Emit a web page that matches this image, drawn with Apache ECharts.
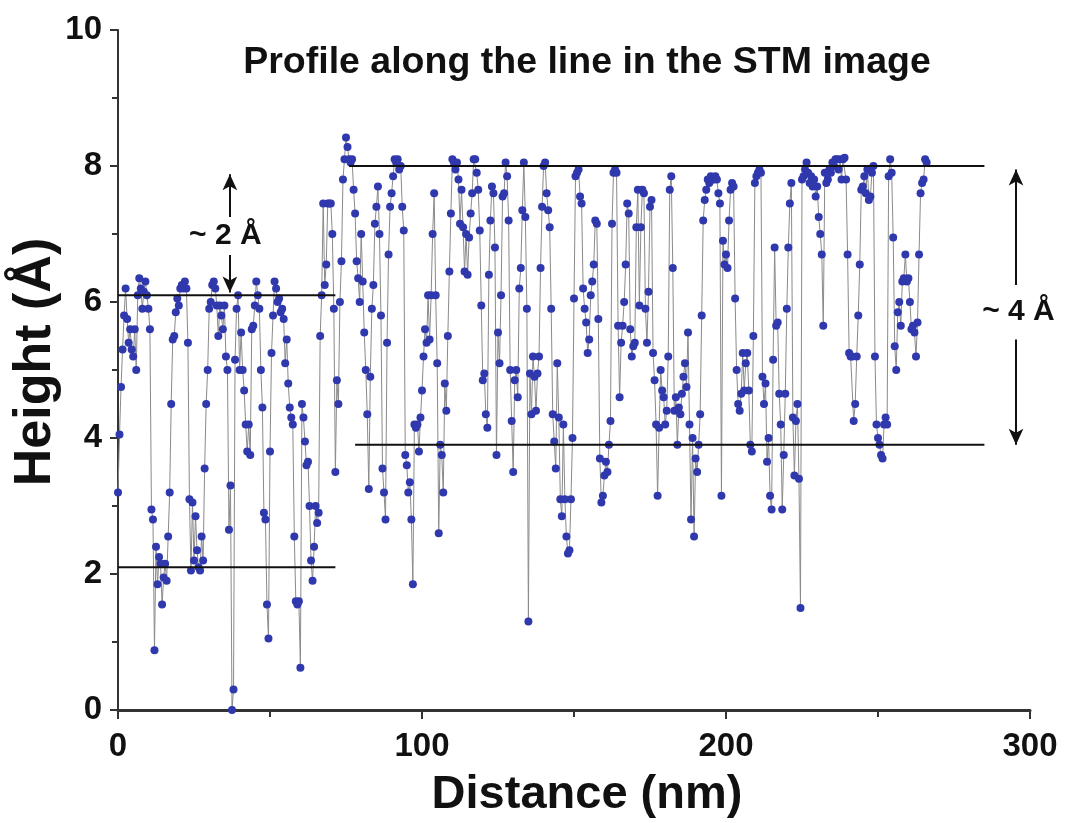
<!DOCTYPE html>
<html><head><meta charset="utf-8">
<script src="https://cdn.jsdelivr.net/npm/echarts@6/dist/echarts.min.js"></script>
<style>html,body{margin:0;padding:0;background:#fff}#c{width:1066px;height:823px}</style>
</head><body><div id="c"></div>
<script>
// Distance (nm) of each sample along the STM line profile
const distance = [
0,0.5,1,1.5,2,2.5,3,3.5,4,4.5,5,5.5,6,6.5,7,7.5,8,8.5,9,9.5,
10,10.5,11,11.5,12,12.5,13,13.5,14,14.5,15,15.5,16,16.5,17,17.5,18,18.5,19,19.5,
20,20.5,21,21.5,22,22.5,23,23.5,24,24.5,25,25.5,26,26.5,27,27.5,28,28.5,29,29.5,
30,30.5,31,31.5,32,32.5,33,33.5,34,34.5,35,35.5,36,36.5,37,37.5,38,38.5,39,39.5,
40,40.5,41,41.5,42,42.5,43,43.5,44,44.5,45,45.5,46,46.5,47,47.5,48,48.5,49,49.5,
50,50.5,51,51.5,52,52.5,53,53.5,54,54.5,55,55.5,56,56.5,57,57.5,58,58.5,59,59.5,
60,60.5,61,61.5,62,62.5,63,63.5,64,64.5,65,65.5,66,66.5,67,67.5,68,68.5,69,69.5,
70,70.5,71,71.5,72,72.5,73,73.5,74,74.5,75,75.5,76,76.5,77,77.5,78,78.5,79,79.5,
80,80.5,81,81.5,82,82.5,83,83.5,84,84.5,85,85.5,86,86.5,87,87.5,88,88.5,89,89.5,
90,90.5,91,91.5,92,92.5,93,93.5,94,94.5,95,95.5,96,96.5,97,97.5,98,98.5,99,99.5,
100,100.5,101,101.5,102,102.5,103,103.5,104,104.5,105,105.5,106,106.5,107,107.5,108,108.5,109,109.5,
110,110.5,111,111.5,112,112.5,113,113.5,114,114.5,115,115.5,116,116.5,117,117.5,118,118.5,119,119.5,
120,120.5,121,121.5,122,122.5,123,123.5,124,124.5,125,125.5,126,126.5,127,127.5,128,128.5,129,129.5,
130,130.5,131,131.5,132,132.5,133,133.5,134,134.5,135,135.5,136,136.5,137,137.5,138,138.5,139,139.5,
140,140.5,141,141.5,142,142.5,143,143.5,144,144.5,145,145.5,146,146.5,147,147.5,148,148.5,149,149.5,
150,150.5,151,151.5,152,152.5,153,153.5,154,154.5,155,155.5,156,156.5,157,157.5,158,158.5,159,159.5,
160,160.5,161,161.5,162,162.5,163,163.5,164,164.5,165,165.5,166,166.5,167,167.5,168,168.5,169,169.5,
170,170.5,171,171.5,172,172.5,173,173.5,174,174.5,175,175.5,176,176.5,177,177.5,178,178.5,179,179.5,
180,180.5,181,181.5,182,182.5,183,183.5,184,184.5,185,185.5,186,186.5,187,187.5,188,188.5,189,189.5,
190,190.5,191,191.5,192,192.5,193,193.5,194,194.5,195,195.5,196,196.5,197,197.5,198,198.5,199,199.5,
200,200.5,201,201.5,202,202.5,203,203.5,204,204.5,205,205.5,206,206.5,207,207.5,208,208.5,209,209.5,
210,210.5,211,211.5,212,212.5,213,213.5,214,214.5,215,215.5,216,216.5,217,217.5,218,218.5,219,219.5,
220,220.5,221,221.5,222,222.5,223,223.5,224,224.5,225,225.5,226,226.5,227,227.5,228,228.5,229,229.5,
230,230.5,231,231.5,232,232.5,233,233.5,234,234.5,235,235.5,236,236.5,237,237.5,238,238.5,239,239.5,
240,240.5,241,241.5,242,242.5,243,243.5,244,244.5,245,245.5,246,246.5,247,247.5,248,248.5,249,249.5,
250,250.5,251,251.5,252,252.5,253,253.5,254,254.5,255,255.5,256,256.5,257,257.5,258,258.5,259,259.5,
260,260.5,261,261.5,262,262.5,263,263.5,264,264.5,265,265.5,266
];
// Height (Å)
const height = [
3.2,4.05,4.75,5.3,5.8,6.2,5.75,5.4,5.6,5.3,5.2,5.6,5.0,6.1,6.35,6.2,5.9,6.15,6.3,6.1,
5.9,5.6,2.95,2.8,0.88,2.4,1.85,2.25,2.15,1.55,1.95,2.15,1.9,2.55,3.2,4.5,5.45,5.5,5.85,6.05,
5.95,6.2,6.25,6.2,6.3,6.2,5.4,3.1,2.05,3.05,2.2,2.85,2.35,2.1,2.05,2.55,2.2,3.55,4.5,5.0,
5.9,6.0,6.25,6.3,6.2,5.95,5.5,5.95,5.8,5.6,5.95,5.2,5.0,2.65,3.3,0.0,0.3,5.15,5.9,6.1,
5.0,5.55,5.0,4.7,4.2,3.8,4.2,3.75,5.6,5.65,5.95,6.3,6.1,5.9,5.0,4.45,2.9,2.8,1.55,1.05,
3.8,5.25,5.8,6.3,6.2,6.0,6.05,5.85,5.9,5.75,5.1,5.45,4.8,4.45,4.3,4.2,2.55,1.6,1.55,1.6,
0.62,4.5,4.3,3.95,3.6,3.65,3.0,2.2,1.9,2.4,3.0,2.75,2.9,5.5,6.1,7.45,6.25,6.55,7.45,7.45,
7.45,7.0,5.9,3.5,4.85,4.5,6.0,6.6,7.8,8.1,8.42,8.28,8.1,8.05,8.1,7.65,7.3,6.6,6.35,6.0,
7.0,6.3,5.55,5.0,4.35,3.25,4.9,5.9,6.25,7.15,7.4,7.7,7.0,5.8,3.55,3.2,2.8,5.4,6.7,7.4,
7.6,7.85,8.1,8.05,8.1,7.95,8.0,7.4,7.05,3.75,3.6,3.2,3.35,2.8,1.85,4.2,4.15,4.2,3.8,4.3,
4.7,5.2,5.6,5.4,6.1,5.45,6.1,7.0,7.6,6.1,5.1,2.6,3.9,3.75,3.2,4.8,4.4,5.5,6.45,7.3,
8.1,8.05,7.95,8.05,7.8,7.15,7.65,7.1,6.45,7.0,6.4,6.95,7.3,7.6,8.1,8.1,7.9,7.65,7.05,5.95,
4.85,4.95,4.35,4.15,6.4,7.2,7.7,7.6,6.8,3.75,5.55,5.1,6.1,7.55,7.6,8.05,7.85,7.2,5.0,4.25,
3.5,4.85,5.0,4.6,6.2,6.5,7.35,8.05,7.25,5.9,1.3,4.95,4.35,5.2,4.9,4.4,4.95,5.2,6.5,7.4,
8.0,8.05,7.6,7.35,7.1,5.9,4.35,3.95,3.55,5.1,4.3,3.1,2.85,4.2,3.1,2.55,2.3,2.35,3.1,4.0,
6.05,7.85,7.9,7.95,7.55,7.45,6.2,5.9,5.7,5.25,5.45,6.1,6.3,6.55,7.2,7.15,5.75,3.7,3.05,3.15,
3.45,3.65,3.5,3.9,4.25,7.15,7.9,7.95,7.9,5.65,4.6,5.4,5.65,6.0,6.55,7.45,7.3,5.6,5.2,5.35,
5.4,7.1,7.65,5.95,7.1,7.65,7.6,5.9,5.4,6.15,7.4,7.5,5.25,4.85,4.2,3.15,4.15,5.0,4.7,4.6,
4.2,4.4,5.2,7.65,7.85,6.5,4.4,4.6,3.9,4.45,4.35,4.65,4.9,5.1,4.75,5.55,4.2,2.8,4.0,2.55,
3.7,3.5,3.9,4.35,5.8,7.2,7.5,7.65,7.8,7.75,7.85,7.8,7.8,7.85,7.8,7.6,7.45,3.15,6.9,6.55,
6.7,6.5,7.2,7.65,7.75,7.7,6.05,5.0,4.5,4.4,4.65,5.25,4.7,5.1,5.25,4.7,3.9,3.8,5.5,7.75,
7.85,7.9,7.95,7.9,4.9,4.5,4.8,3.65,4.0,3.15,2.95,5.15,6.8,5.65,5.7,4.65,4.2,2.95,3.75,4.65,
5.9,6.8,7.45,7.75,4.3,3.45,4.25,4.5,3.4,1.5,7.8,7.85,7.95,8.05,7.9,7.75,7.85,7.7,7.8,7.55,
7.7,7.25,7.0,6.7,5.65,7.9,7.75,7.8,7.95,7.9,8.05,8.0,8.1,8.1,7.95,8.1,7.8,8.1,8.12,7.8,
6.7,5.25,5.2,5.2,4.25,4.5,5.2,5.8,6.55,7.65,7.7,7.85,7.6,7.95,7.5,7.55,7.9,8.0,5.2,4.2,
4.0,3.9,3.75,3.7,4.2,4.3,4.2,7.85,8.1,7.9,6.95,5.35,5.0,5.85,6.0,5.65,6.3,6.35,6.7,6.3,
6.35,6.0,5.6,5.65,5.55,5.2,5.7,6.7,7.6,7.75,7.8,8.1,8.05
];
const xTicks = [0, 100, 200, 300];
const yTicks = [0, 2, 4, 6, 8, 10];
// terrace levels: [start nm, end nm, height Å]
const levelLines = [
  [0, 71.5, 6.1],
  [0, 71.5, 2.1],
  [76, 285, 8.0],
  [78, 285, 3.9]
];
// arrows: [x nm, from Å, to Å]
const arrows = [
  [36.8, 7.22, 7.88],
  [36.8, 6.7, 6.14],
  [295.4, 6.25, 7.95],
  [295.4, 5.45, 3.9]
];
// annotation texts: [label, x nm, y Å]
const notes = [
  ['~ 2 Å', 35.3, 6.97],
  ['~ 4 Å', 296.2, 5.86]
];
const titleText = 'Profile along the line in the STM image';
const xName = 'Distance (nm)';
const yName = 'Height (Å)';

const FONT = "'Liberation Sans', Arial, sans-serif";
const n = Math.min(distance.length, height.length);
const profile = [];
for (let i = 0; i < n; i++) profile.push([distance[i], height[i]]);

const chart = echarts.init(document.getElementById('c'), null, {renderer: 'canvas'});
const series = [{
  type: 'line',
  data: profile,
  showAllSymbol: true,
  symbol: 'circle',
  symbolSize: 8,
  itemStyle: {color: '#3038ad'},
  lineStyle: {color: '#8a8a8a', width: 1},
  z: 2,
  silent: true
}];
levelLines.forEach(l => series.push({
  type: 'line', data: [[l[0], l[2]], [l[1], l[2]]], symbol: 'none',
  lineStyle: {color: '#111', width: 2}, z: 3, silent: true
}));
series.push({
  type: 'line', data: [], silent: true,
  markLine: {
    silent: true, symbol: ['none', 'arrow'], symbolSize: [11, 16],
    lineStyle: {color: '#111', width: 2, type: 'solid'},
    label: {show: false},
    data: arrows.map(a => [{coord: [a[0], a[1]]}, {coord: [a[0], a[2]]}])
  }
});

chart.setOption({
  animation: false,
  backgroundColor: '#fff',
  grid: {left: 118, right: 36, top: 30, bottom: 113, containLabel: false, outerBoundsMode: 'none'},
  xAxis: {
    type: 'value', min: 0, max: 300, interval: 100,
    name: xName, nameLocation: 'middle', nameGap: 62, nameMoveOverlap: false,
    nameTextStyle: {fontFamily: FONT, fontWeight: 'bold', fontSize: 47, color: '#111', padding: [0, 0, 0, 26]},
    axisLine: {show: true, lineStyle: {color: '#333', width: 3}},
    axisTick: {show: true, inside: false, length: 9, lineStyle: {color: '#333', width: 2}},
    minorTick: {show: true, splitNumber: 2, length: 7, lineStyle: {color: '#333', width: 2}},
    splitLine: {show: false},
    axisLabel: {fontFamily: FONT, fontWeight: 'bold', fontSize: 33, color: '#111', margin: 20,
      formatter: v => xTicks.includes(v) ? String(v) : ''}
  },
  yAxis: {
    type: 'value', min: 0, max: 10, interval: 2,
    name: yName, nameLocation: 'middle', nameGap: 56, nameMoveOverlap: false,
    nameTextStyle: {fontFamily: FONT, fontWeight: 'bold', fontSize: 52, color: '#111', padding: [0, 0, 0, 16]},
    axisLine: {show: true, lineStyle: {color: '#333', width: 2}},
    axisTick: {show: true, inside: false, length: 8, lineStyle: {color: '#333', width: 2}},
    minorTick: {show: true, splitNumber: 2, length: 6, lineStyle: {color: '#333', width: 2}},
    splitLine: {show: false},
    axisLabel: {fontFamily: FONT, fontWeight: 'bold', fontSize: 33, color: '#111', margin: 16,
      formatter: v => yTicks.includes(v) ? String(v) : ''}
  },
  series: series
});

const gfx = [{
  type: 'text', x: 587, y: 63, silent: true,
  style: {text: titleText, fill: '#111', font: 'bold 37.5px ' + FONT, align: 'center', verticalAlign: 'middle'}
}];
notes.forEach(t => {
  const p = chart.convertToPixel({gridIndex: 0}, [t[1], t[2]]);
  gfx.push({type: 'text', x: p[0], y: p[1], silent: true, z: 10,
    style: {text: t[0], fill: '#111', font: 'bold 30px ' + FONT, align: 'center', verticalAlign: 'middle',
      backgroundColor: '#fff', padding: [4, 2]}});
});
chart.setOption({graphic: gfx});
</script></body></html>
